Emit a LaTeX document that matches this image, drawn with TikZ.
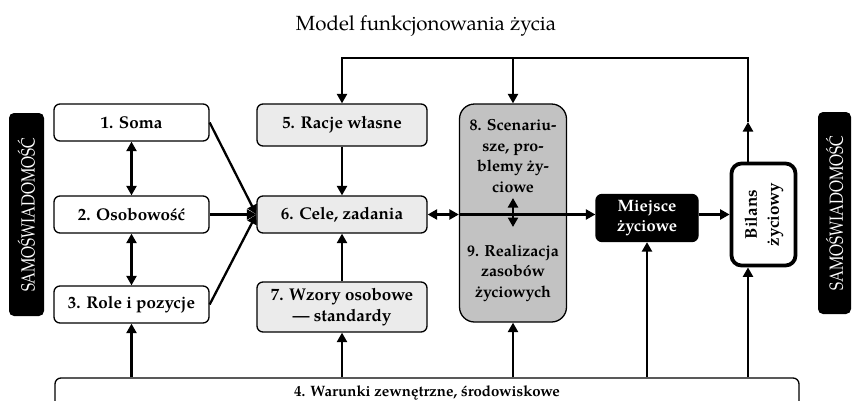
\documentclass[tikz,border=0pt]{standalone}
\usepackage{fontspec}
\usepackage{graphicx}
\setmainfont{texgyrepagella}[Extension=.otf, UprightFont=*-regular, BoldFont=*-bold, ItalicFont=*-italic, BoldItalicFont=*-bolditalic]
\usetikzlibrary{arrows.meta}
\definecolor{boxlight}{gray}{0.92}
\definecolor{boxmid}{gray}{0.76}
% narrow, tall lettering for the vertical side labels
\newcommand{\sidelabel}[1]{\scalebox{0.8}[1]{#1}}

\begin{document}
\begin{tikzpicture}[x=1pt,y=-1pt,
  box/.style={draw, line width=1.3pt, rounded corners=6pt, align=center,
    font=\fontsize{17}{21}\selectfont\bfseries, inner sep=0pt},
  plainbox/.style={box, fill=white},
  lightbox/.style={box, fill=boxlight},
  txt/.style={align=center, font=\fontsize{16}{20.5}\selectfont\bfseries, inner sep=0pt},
  conn/.style={line width=2.3pt, -{Triangle[length=9.5pt,width=10pt]}},
  both/.style={line width=2.3pt, {Triangle[length=9.5pt,width=10pt]}-{Triangle[length=9.5pt,width=10pt]}},
  sidebar/.style={fill=black, rounded corners=5pt, text=white, rotate=90,
    font=\fontsize{19}{20}\selectfont, inner sep=0pt}]

\useasboundingbox (0,0) rectangle (852,400);

% title
\node[font=\fontsize{20.5}{24}\selectfont] (title) at (426,26) {Model funkcjonowania życia};

% side bars
\node[sidebar, minimum width=203pt, minimum height=35pt] (sl) at (26.5,214.5) {\sidelabel{SAMOŚWIADOMOŚĆ}};
\node[sidebar, minimum width=202pt, minimum height=33pt] (sr) at (834.5,213) {\sidelabel{SAMOŚWIADOMOŚĆ}};

% left column
\node[plainbox, minimum width=155pt, minimum height=37pt] (b1) at (131.5,122.5) {1. Soma};
\node[plainbox, minimum width=155pt, minimum height=37pt] (b2) at (131.5,214.5) {2. Osobowość};
\node[plainbox, minimum width=155pt, minimum height=37pt] (b3) at (131.5,304.5) {3. Role i pozycje};

% middle column
\node[lightbox, minimum width=170pt, minimum height=42pt] (b5) at (342,125) {5. Racje własne};
\node[lightbox, minimum width=170pt, minimum height=37pt] (b6) at (342,214.5) {6. Cele, zadania};
\node[lightbox, minimum width=170pt, minimum height=50pt] (b7) at (342,307) {7. Wzory osobowe\\— standardy};

% scenarios / resources
\node[draw, line width=1.3pt, fill=boxmid, rounded corners=15pt,
  minimum width=107pt, minimum height=218pt] (b89) at (513,213) {};
\node[txt] (t8) at (513,156) {8. Scenariu-\\sze, pro-\\blemy ży-\\ciowe};
\node[txt] (t9) at (513,273) {9. Realizacja\\zasobów\\życiowych};

% life place and balance
\node[box, fill=black, text=white, minimum width=102pt, minimum height=47pt,
  font=\fontsize{16.5}{20}\selectfont\bfseries] (mz) at (647,218) {Miejsce\\życiowe};
\node[draw, line width=3.8pt, fill=white, rounded corners=10pt,
  minimum width=64pt, minimum height=102pt, inner sep=0pt] (bl) at (763.5,214.5)
  {\rotatebox{90}{\fontsize{17}{22}\selectfont\bfseries\begin{tabular}{@{}c@{}}Bilans\\życiowy\end{tabular}}};

% external conditions
\node[plainbox, minimum width=744pt, minimum height=30pt, font=\fontsize{15}{17}\selectfont\bfseries] (b4) at (427,393) {4. Warunki zewnętrzne, środowiskowe};

% feedback loop along the top
\coordinate (tr) at (748,58);
\coordinate (midup) at (748,122);
\draw[conn] (bl.north -| tr) -- (midup);
\draw[conn] (midup) -- (tr) -| (b5.north);
\draw[conn] (b89.north |- tr) -- (b89.north);

% left and middle columns
\draw[both] (b1) -- (b2);
\draw[both] (b2) -- (b3);
\draw[conn] (b1.east) -- (b6.west);
\draw[conn] (b2) -- (b6);
\draw[conn] (b3.east) -- (b6.west);
\draw[conn] (b5) -- (b6);
\draw[conn] (b7) -- (b6);

% main horizontal flow
\draw[both] (b6.east) -- (b6.east -| b89.west);
\draw[conn] (b6.east -| b89.west) -- (b6.east -| mz.west);
\draw[conn] (mz.east |- b6.east) -- (bl.west |- b6.east);

% link between 8 and 9
\coordinate (up89) at (513,198);
\coordinate (dn89) at (513,227);
\draw[both] (up89) -- (dn89);

% influences from external conditions
\draw[conn] (b3.south |- b4.north) -- (b3.south);
\draw[conn] (b7.south |- b4.north) -- (b7.south);
\draw[conn] (b89.south |- b4.north) -- (b89.south);
\draw[conn] (mz.south |- b4.north) -- (mz.south);
\draw[conn] (tr |- b4.north) -- (tr |- bl.south);

\end{tikzpicture}
\end{document}
